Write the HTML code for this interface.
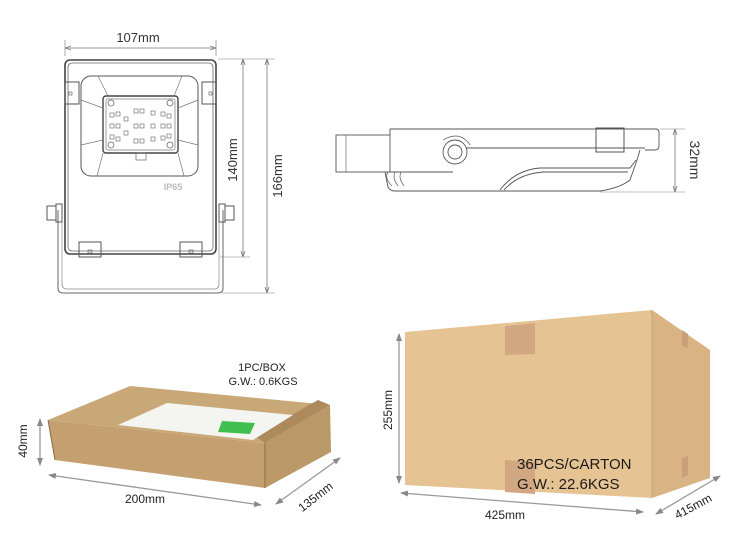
<!DOCTYPE html>
<html><head><meta charset="utf-8"><style>
html,body{margin:0;padding:0;background:#fff;}
svg{display:block;font-family:"Liberation Sans",sans-serif;}
</style></head><body>
<svg width="750" height="551" viewBox="0 0 750 551" xmlns="http://www.w3.org/2000/svg">
<defs>
<marker id="a" markerWidth="8" markerHeight="8" refX="7" refY="4" orient="auto-start-reverse" markerUnits="userSpaceOnUse"><path d="M0,1 L8,4 L0,7 z" fill="#888"/></marker>
<marker id="t" markerWidth="6" markerHeight="6" refX="5" refY="3" orient="auto-start-reverse" markerUnits="userSpaceOnUse"><path d="M0,1 L6,3 L0,5" fill="none" stroke="#777" stroke-width="0.8"/></marker>
</defs>

<!-- FRONT VIEW -->
<g fill="none" stroke="#555" stroke-width="1">
 <line x1="65" y1="40" x2="65" y2="56" stroke="#aaa"/>
 <line x1="216" y1="40" x2="216" y2="56" stroke="#aaa"/>
 <line x1="66" y1="48" x2="215" y2="48" stroke="#777" stroke-width="0.8" marker-start="url(#t)" marker-end="url(#t)"/>
 <line x1="218" y1="59" x2="275" y2="59" stroke="#aaa" stroke-width="0.7"/>
 <line x1="220" y1="257" x2="250" y2="257" stroke="#aaa" stroke-width="0.7"/>
 <line x1="222" y1="293" x2="275" y2="293" stroke="#aaa" stroke-width="0.7"/>
 <line x1="243" y1="60" x2="243" y2="256" stroke="#777" stroke-width="0.8" marker-start="url(#t)" marker-end="url(#t)"/>
 <line x1="267" y1="60" x2="267" y2="292" stroke="#777" stroke-width="0.8" marker-start="url(#t)" marker-end="url(#t)"/>
 <!-- stand -->
 <path d="M58,210 L58,288 Q58,293 63,293 L218,293 Q223,293 223,288 L223,210" stroke="#666"/>
 <path d="M62,212 L62,284 Q62,289 67,289 L214,289 Q219,289 219,284 L219,212" stroke="#888" stroke-width="0.7"/>
 <!-- frame -->
 <rect x="65" y="60" width="151" height="194" rx="5" stroke="#444" stroke-width="1.6"/>
 <rect x="68" y="63" width="145" height="188" rx="4" stroke="#666" stroke-width="0.8"/>
 <!-- head -->
 <rect x="81" y="76" width="117" height="100" rx="10" stroke="#555"/>
 <rect x="103" y="96" width="75" height="57" rx="3" stroke="#444" stroke-width="1.4"/>
 <rect x="106" y="99" width="69" height="51" rx="2" stroke="#777" stroke-width="0.7"/>
 <path d="M98,76 L108,96 M182,76 L174,96 M81,100 L103,108 M198,100 L178,108 M81,145 L103,140 M198,145 L178,140 M103,153 L97,176 M178,153 L184,176" stroke="#777" stroke-width="0.7"/>
 <rect x="136" y="153" width="10" height="7" stroke="#666" stroke-width="0.7"/>
 <!-- brackets -->
 <rect x="65" y="82" width="14" height="22" stroke="#555"/>
 <rect x="202" y="82" width="14" height="22" stroke="#555"/>
 <rect x="69" y="92" width="3" height="3" stroke-width="0.6"/>
 <rect x="209" y="92" width="3" height="3" stroke-width="0.6"/>
 <!-- bottom tabs -->
 <rect x="79" y="242" width="22" height="15" stroke="#555"/>
 <rect x="180" y="242" width="22" height="15" stroke="#555"/>
 <rect x="88" y="250" width="4" height="3" stroke-width="0.6"/>
 <rect x="189" y="250" width="4" height="3" stroke-width="0.6"/>
 <!-- bolts -->
 <rect x="47" y="206" width="9" height="14" stroke="#555"/>
 <rect x="56" y="204" width="6" height="18" stroke="#555"/>
 <rect x="219" y="204" width="6" height="18" stroke="#555"/>
 <rect x="225" y="206" width="9" height="14" stroke="#555"/>
</g>
<g fill="#fff" stroke="#666" stroke-width="0.8">
 <circle cx="111" cy="103" r="3"/><circle cx="170" cy="103" r="3"/>
 <circle cx="111" cy="145" r="3"/><circle cx="170" cy="145" r="3"/>
</g>
<g fill="none" stroke="#777" stroke-width="0.7">
 <rect x="110" y="113" width="4" height="4"/><rect x="116" y="112" width="4" height="4"/><rect x="124" y="117" width="4" height="4"/><rect x="134" y="109" width="4" height="4"/><rect x="140" y="109" width="4" height="4"/><rect x="151" y="111" width="4" height="4"/><rect x="161" y="112" width="4" height="4"/><rect x="167" y="114" width="4" height="4"/>
 <rect x="110" y="124" width="4" height="4"/><rect x="116" y="124" width="4" height="4"/><rect x="134" y="124" width="4" height="4"/><rect x="140" y="124" width="4" height="4"/><rect x="151" y="124" width="4" height="4"/><rect x="161" y="124" width="4" height="4"/><rect x="167" y="124" width="4" height="4"/>
 <rect x="124" y="131" width="4" height="4"/>
 <rect x="110" y="135" width="4" height="4"/><rect x="116" y="137" width="4" height="4"/><rect x="134" y="139" width="4" height="4"/><rect x="140" y="139" width="4" height="4"/><rect x="151" y="137" width="4" height="4"/><rect x="161" y="136" width="4" height="4"/><rect x="167" y="134" width="4" height="4"/>
</g>
<text x="173" y="190" font-size="9" font-weight="bold" fill="#bbb" text-anchor="middle">IP65</text>
<text x="138" y="42" font-size="13" fill="#333" text-anchor="middle">107mm</text>
<text transform="translate(237,160) rotate(-90)" font-size="13" fill="#333" text-anchor="middle">140mm</text>
<text transform="translate(282,176) rotate(-90)" font-size="13" fill="#333" text-anchor="middle">166mm</text>

<!-- SIDE VIEW -->
<g fill="none" stroke="#555" stroke-width="0.9">
 <rect x="336" y="135" width="54" height="37"/>
 <line x1="346" y1="135" x2="346" y2="172" stroke-width="0.6"/>
 <path d="M390,129 L656,129 Q659,129 659,133 L659,146 Q659,150 655,150 L645,150"/>
 <line x1="390" y1="129" x2="390" y2="135"/>
 <path d="M466,148 L645,148"/>
 <path d="M390,172 L453,172"/>
 <path d="M385,172 L388,187 Q390,191 395,191 L600,191 Q620,188 630,180 L637,160 L640,150"/>
 <path d="M500,190 Q515,170 540,168 L630,168 L636,160"/>
 <path d="M504,190 Q518,174 543,172 L628,172"/>
 <rect x="596" y="128" width="28" height="24" stroke-width="1"/>
 <circle cx="455" cy="152" r="12"/>
 <circle cx="455" cy="152" r="7"/>
 <path d="M443,140 Q460,130 470,145" stroke-width="0.7"/>
 <path d="M388,172 Q384,178 392,186 M395,172 Q392,178 398,186 M401,172 Q398,178 404,186" stroke-width="0.7"/>
 <line x1="660" y1="129" x2="685" y2="129" stroke="#aaa" stroke-width="0.7"/>
 <line x1="600" y1="192" x2="685" y2="192" stroke="#aaa" stroke-width="0.7"/>
 <line x1="675" y1="130" x2="675" y2="191" stroke="#777" stroke-width="0.8" marker-start="url(#t)" marker-end="url(#t)"/>
</g>
<text transform="translate(690,160) rotate(90)" font-size="14" fill="#333" text-anchor="middle">32mm</text>

<!-- SMALL BOX -->
<polygon points="48,420 130,386 330,405 265,443" fill="#c9a878"/>
<polygon points="48,420 265,443 265,488 55,460" fill="#c4a071"/>
<polygon points="265,443 330,405 331,452 265,488" fill="#bb9868"/>
<polygon points="255,436 318,400 330,405 265,443" fill="#ad8a5c"/>
<polygon points="118,425 167,403 293,415 253,440" fill="#f4f4f0"/>
<polygon points="222,421 255,423 250,434 218,432" fill="#3fbf4f"/>
<line x1="48" y1="420" x2="55" y2="460" stroke="#8a6b45" stroke-width="1"/>
<line x1="265" y1="443" x2="265" y2="488" stroke="#8a6b45" stroke-width="1"/>
<text x="262" y="371" font-size="11" fill="#222" text-anchor="middle">1PC/BOX</text>
<text x="263" y="385" font-size="11" fill="#222" text-anchor="middle">G.W.: 0.6KGS</text>
<line x1="40" y1="419" x2="40" y2="465" stroke="#999" stroke-width="1.3" marker-start="url(#a)" marker-end="url(#a)"/>
<text transform="translate(27,441) rotate(-90)" font-size="12" fill="#222" text-anchor="middle">40mm</text>
<line x1="49" y1="475" x2="261" y2="505" stroke="#999" stroke-width="1.3" marker-start="url(#a)" marker-end="url(#a)"/>
<text x="145" y="503" font-size="12" fill="#222" text-anchor="middle">200mm</text>
<line x1="276" y1="504" x2="340" y2="458" stroke="#999" stroke-width="1.3" marker-start="url(#a)" marker-end="url(#a)"/>
<text transform="translate(318,500) rotate(-38)" font-size="12" fill="#222" text-anchor="middle">135mm</text>

<!-- BIG CARTON -->
<polygon points="405,332 652,310 652,498 405,485" fill="#e6c393"/>
<polygon points="652,310 710,350 710,478 652,498" fill="#d9b384"/>
<polygon points="505,326 535,323 535,354 505,355" fill="#d2a882"/>
<polygon points="505,460 535,462 535,494 505,492" fill="#d2a882"/>
<polygon points="682,330 688,334 688,348 682,346" fill="#c9a07a"/>
<polygon points="682,458 688,456 688,475 682,478" fill="#c9a07a"/>
<line x1="652" y1="310" x2="652" y2="498" stroke="#c9a57a" stroke-width="1"/>
<text x="517" y="469" font-size="15" fill="#1a1a1a">36PCS/CARTON</text>
<text x="517" y="489" font-size="15" fill="#1a1a1a">G.W.: 22.6KGS</text>
<line x1="399" y1="334" x2="399" y2="483" stroke="#999" stroke-width="1.3" marker-start="url(#a)" marker-end="url(#a)"/>
<text transform="translate(392,410) rotate(-90)" font-size="12" fill="#222" text-anchor="middle">255mm</text>
<line x1="401" y1="493" x2="643" y2="512" stroke="#999" stroke-width="1.3" marker-start="url(#a)" marker-end="url(#a)"/>
<text x="505" y="519" font-size="12" fill="#222" text-anchor="middle">425mm</text>
<line x1="656" y1="514" x2="720" y2="476" stroke="#999" stroke-width="1.3" marker-start="url(#a)" marker-end="url(#a)"/>
<text transform="translate(695,510) rotate(-28)" font-size="12" fill="#222" text-anchor="middle">415mm</text>
</svg>
</body></html>
